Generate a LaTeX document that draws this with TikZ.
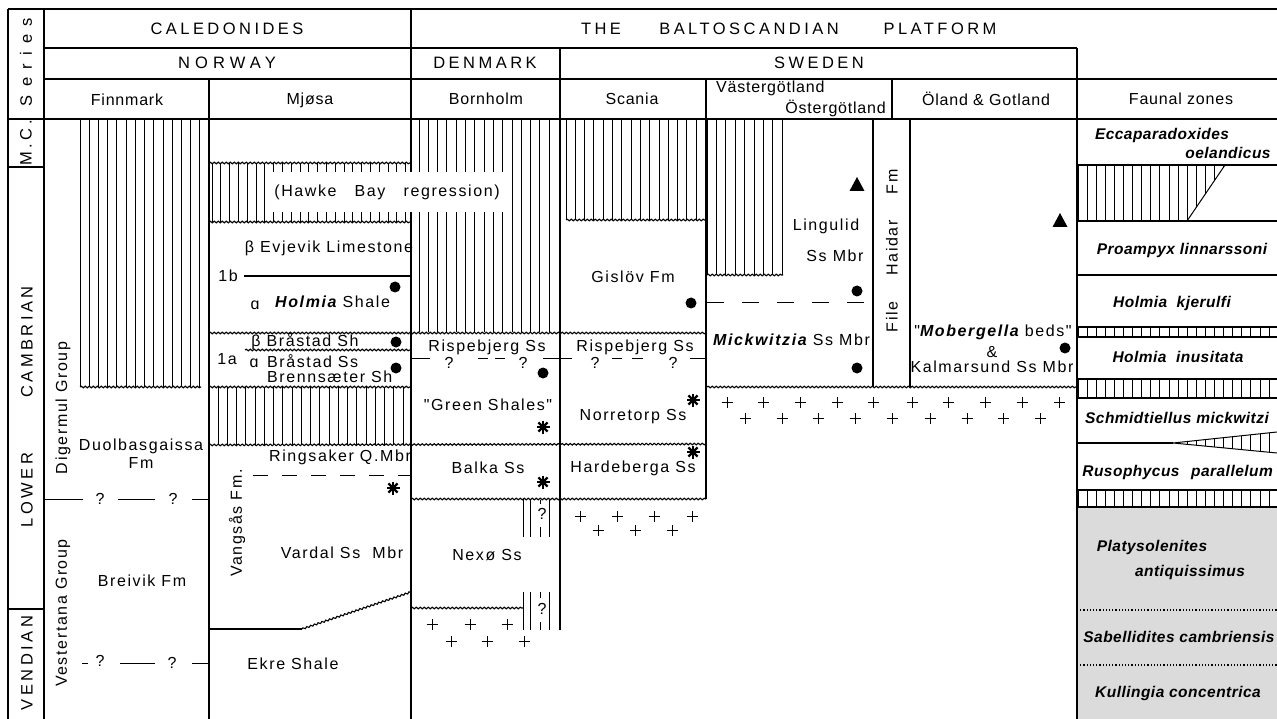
\documentclass[tikz,border=0pt]{standalone}
\usepackage{fontspec}
\setmainfont{Liberation Sans}
\newfontfamily\capsfont{Liberation Sans}[LetterSpace=21]
\newfontfamily\wcapsfont{Liberation Sans}[LetterSpace=31]
\newfontfamily\serfont{Liberation Sans}[LetterSpace=50]
\newfontfamily\subfont{Liberation Sans}[LetterSpace=5]
\newfontfamily\txtfont{Liberation Sans}[LetterSpace=10]
\newfontfamily\fzfont{Liberation Sans}[LetterSpace=3]
\usetikzlibrary{decorations.pathmorphing}
\newcommand\hatchv[5]{\foreach \xx in {#1,#2,...,#3}{\draw[hl] (\xx,#4) -- (\xx,#5);}}
\tikzset{
 astk/.pic={\foreach \a in {0,45,90,135}{\draw[line width=2.2pt] (\a:6.5pt) -- (\a+180:6.5pt);}\fill (0,0) circle[radius=2.6pt];},
 pls/.pic={\draw[line width=1pt] (-5.5pt,0) -- (5.5pt,0) (0,-5.5pt) -- (0,5.5pt);},
 tri/.pic={\fill (-7.5pt,-7pt) -- (7.5pt,-7pt) -- (0,7pt) -- cycle;},
}
\begin{document}
\begin{tikzpicture}[x=1pt,y=-1pt,
 ln/.style={line width=1.3pt},
 hl/.style={line width=1pt},
 wv/.style={line width=1.1pt,decorate,decoration={snake,amplitude=0.8pt,segment length=4pt}},
 hd/.style={font=\capsfont\fontsize{16.5}{18}\selectfont,inner sep=0pt},
 hw/.style={font=\wcapsfont\fontsize{16.5}{18}\selectfont,inner sep=0pt},
 sh/.style={font=\subfont\fontsize{16}{18}\selectfont,inner sep=0pt},
 tx/.style={font=\txtfont\fontsize{16}{18}\selectfont,inner sep=0pt},
 fz/.style={font=\fzfont\bfseries\itshape\fontsize{15.5}{18}\selectfont,inner sep=0pt},
 dt/.style={radius=5.5pt},
]
\useasboundingbox (0,0) rectangle (1277,719);
\fill[white] (0,0) rectangle (1277,719);
% stippled area
\fill[black!14] (1077,507) rectangle (1277,719);

% ---------- hatching ----------
\hatchv{80}{89.23}{200.5}{119}{387}        % Finnmark
\hatchv{212}{220.8}{406}{163}{222}         % Mjosa top
\hatchv{218}{227.25}{404}{387}{445}        % Mjosa lower
\hatchv{419}{428.3}{550}{119}{332}         % Bornholm
\hatchv{566}{575.3}{706}{119}{220}         % Scania
\hatchv{707}{716.4}{783}{119}{275}         % Vastergotland
% Bornholm small hatches
\foreach \xx in {523,530,549}{\draw[hl] (\xx,499) -- (\xx,537); \draw[hl] (\xx,592) -- (\xx,630);}
\draw[hl] (540,500) -- (540,504) (540,527) -- (540,537) (540,592) -- (540,598) (540,622) -- (540,630);
\node[tx] (q5) at (542,514) {?};
\node[tx] (q6) at (542,609) {?};
% faunal hatches
\begin{scope}
\clip (1077,165) -- (1225,165) -- (1187,221) -- (1077,221) -- cycle;
\hatchv{1078}{1087.1}{1230}{165}{221}
\end{scope}
\draw[hl] (1225,165) -- (1187,221);
\hatchv{1078}{1087.1}{1277}{327}{337}
\hatchv{1078}{1087.1}{1277}{379}{398}
\hatchv{1078}{1087.1}{1277}{490}{507}
\begin{scope}
\clip (1173,443) -- (1277,432) -- (1277,453) -- cycle;
\hatchv{1078}{1087.1}{1277}{430}{455}
\end{scope}
\draw[hl] (1277,432) -- (1173,443) -- (1277,453);

% white box Hawke Bay
\fill[white] (267,172) rectangle (508,212);

% ---------- frame lines ----------
\draw[ln] (8,9) -- (1277,9);
\draw[ln] (44,48) -- (1077,48);
\draw[ln] (44,79) -- (1277,79);
\draw[ln] (8,119) -- (1277,119);
\draw[ln] (8,9) -- (8,719);
\draw[ln] (44,9) -- (44,719);
\draw[ln] (8,167) -- (44,167);
\draw[ln] (8,609) -- (44,609);
\draw[ln] (209,79) -- (209,719);
\draw[ln] (411,9) -- (411,172) (411,212) -- (411,719);
\draw[ln] (560,48) -- (560,630);
\draw[ln] (706,79) -- (706,499);
\draw[ln] (892,79) -- (892,119);
\draw[ln] (873,119) -- (873,387);
\draw[ln] (910,119) -- (910,387);
\draw[ln] (1077,48) -- (1077,719);
% faunal lines
\draw[ln] (1077,165) -- (1277,165);
\draw[ln] (1077,221) -- (1277,221);
\draw[ln] (1077,275) -- (1277,275);
\draw[ln] (1077,327) -- (1277,327) (1077,337) -- (1277,337);
\draw[ln] (1077,379) -- (1277,379) (1077,398) -- (1277,398);
\draw[ln] (1077,443) -- (1173,443);
\draw[ln] (1077,490) -- (1277,490) (1077,507) -- (1277,507);
\draw[line width=1.2pt,dotted] (1077,610) -- (1277,610) (1077,665) -- (1277,665);

% ---------- unconformities ----------
\draw[wv] (209,163) -- (411,163);
\draw[wv] (209,222) -- (411,222);
\draw[wv] (80,387) -- (201,387);
\draw[wv] (209,333) -- (706,333);
\draw[wv] (566,220) -- (706,220);
\draw[wv] (245,350) -- (411,350);
\draw[wv] (209,387) -- (411,387);
\draw[wv] (707,275) -- (783,275);
\draw[wv] (707,387) -- (1077,387);
\draw[wv] (209,445) -- (706,444);
\draw[wv] (411,499) -- (706,499);
\draw[wv] (411,608) -- (523,608);
\draw[wv] (302,629) -- (411,592);
\draw[ln] (209,629) -- (302,629);
\draw[ln] (244,276) -- (411,276);
\draw[hl,dash pattern=on 15pt off 14pt] (253,475) -- (411,475);
\draw[hl,dash pattern=on 17pt off 18pt] (707,303) -- (873,303);

% ---------- headers ----------
\node[hd,font=\serfont\fontsize{16.5}{18}\selectfont,rotate=90] (ser) at (26,62) {Series};
\node[hd] (cal) at (227,29) {CALEDONIDES};
\node[hd] (the) at (601,29) {THE};
\node[hd] (bal) at (749,29) {BALTOSCANDIAN};
\node[hd] (pla) at (940,29) {PLATFORM};
\node[hw] (nor) at (227,63) {NORWAY};
\node[hd] (den) at (485,63) {DENMARK};
\node[hd] (swe) at (819,63) {SWEDEN};
\node[sh] (fin) at (127,100) {Finnmark};
\node[sh] (mjo) at (310,100) {Mjøsa};
\node[sh] (bor) at (486,99) {Bornholm};
\node[sh] (sca) at (632,99) {Scania};
\node[sh,anchor=west] (vas) at (716,88) {Västergötland};
\node[sh,anchor=east] (ost) at (886,108) {Östergötland};
\node[sh] (ola) at (986,99) {Öland \& Gotland};
\node[sh] (fau) at (1181,99) {Faunal zones};

% ---------- series column ----------
\node[hd,rotate=90] (mc) at (26,143) {M.C.};
\node[hd,rotate=90] (cam) at (27,342) {CAMBRIAN};
\node[hd,rotate=90] (low) at (27,490) {LOWER};
\node[hd,rotate=90] (ven) at (27,663) {VENDIAN};

% ---------- Finnmark ----------
\node[tx,rotate=90] (dig) at (63,408) {Digermul Group};
\node[tx,rotate=90] (ves) at (63,613) {Vestertana Group};
\node[tx] (duo) at (141,446) {Duolbasgaissa};
\node[tx] (duofm) at (141,463) {Fm};
\draw[hl] (44,499) -- (83,499) (118,499) -- (155,499) (192,499) -- (209,499);
\node[tx] (q1) at (100,499) {?};
\node[tx] (q2) at (173,499) {?};
\node[tx] (bre) at (142,581) {Breivik Fm};
\draw[hl] (82,663) -- (88,663) (120,663) -- (155,663) (192,663) -- (209,663);
\node[tx] (q3) at (100,661) {?};
\node[tx] (q4) at (172,663) {?};

% ---------- Mjosa ----------
\node[tx] (haw) at (387,192) {(Hawke\ \ \ Bay\ \ \ regression)};
\node[tx] (evj) at (329,248) {β Evjevik Limestone};
\node[tx] (o1b) at (228,276) {1b};
\fill (395,287) circle[dt];
\node[tx] (al1) at (255,305) {ɑ};
\node[tx,anchor=west] (hol) at (275,302) {{\bfseries\itshape Holmia} Shale};
\node[tx] (brsh) at (305,342) {β Bråstad Sh};
\fill (396,342) circle[dt];
\node[tx] (o1a) at (227,359) {1a};
\node[tx] (al2) at (254,363) {ɑ};
\node[tx,anchor=west] (brss) at (267,361) {Bråstad Ss};
\fill (396,368) circle[dt];
\node[tx,anchor=west] (bren) at (267,377) {Brennsæter Sh};
\node[tx] (rin) at (340,457) {Ringsaker Q.Mbr};
\pic at (393,488) {astk};
\node[tx,rotate=90] (van) at (237,523) {Vangsås Fm.};
\node[tx] (var) at (342,553) {Vardal Ss\ \ Mbr};
\node[tx] (ekr) at (293,664) {Ekre Shale};

% ---------- Bornholm ----------
\node[tx] (ris1) at (487,347) {Rispebjerg Ss};
\draw[hl] (411,358) -- (430,358) (478,358) -- (488,358) (495,358) -- (505,358) (543,358) -- (560,358);
\node[tx] (q7) at (449,363) {?};
\node[tx] (q8) at (523,363) {?};
\fill (543,373) circle[dt];
\node[tx] (gre) at (488,405) {"Green Shales"};
\pic at (543,427) {astk};
\node[tx] (bal2) at (488,468) {Balka Ss};
\pic at (543,482) {astk};
\node[tx] (nex) at (487,555) {Nexø Ss};
\foreach \xx in {432,470,507}{\pic at (\xx,624) {pls};}
\foreach \xx in {451,487,524}{\pic at (\xx,641) {pls};}

% ---------- Scania ----------
\node[tx] (gis) at (633,277) {Gislöv Fm};
\fill (691,303) circle[dt];
\node[tx] (ris2) at (635,347) {Rispebjerg Ss};
\draw[hl] (560,358) -- (572,358) (612,358) -- (622,358) (632,358) -- (643,358) (690,358) -- (706,358);
\node[tx] (q9) at (595,363) {?};
\node[tx] (q10) at (673,363) {?};
\pic at (693,400) {astk};
\node[tx] (nor2) at (633,417) {Norretorp Ss};
\pic at (693,452) {astk};
\node[tx] (har) at (633,468) {Hardeberga Ss};
\foreach \xx in {580,617,654,692}{\pic at (\xx,516) {pls};}
\foreach \xx in {598,635,672}{\pic at (\xx,530) {pls};}

% ---------- Vastergotland / Ostergotland ----------
\pic at (857,184) {tri};
\node[tx] (lin) at (826,226) {Lingulid};
\node[tx] (lss) at (835,256) {Ss Mbr};
\fill (857,291) circle[dt];
\node[tx,anchor=west] (mic) at (713,340) {{\bfseries\itshape Mickwitzia} Ss Mbr};
\fill (857,368) circle[dt];
\node[tx,rotate=90] (fil) at (892,317) {File};
\node[tx,rotate=90] (hai) at (892,248) {Haidar};
\node[tx,rotate=90] (hfm) at (892,182) {Fm};

% ---------- Oland & Gotland ----------
\pic at (1060,220) {tri};
\node[tx] (mob) at (993,332) {"{\bfseries\itshape Mobergella} beds"};
\fill (1065,348) circle[dt];
\node[tx] (amp) at (992,352) {\&};
\node[tx] (kal) at (992,367) {Kalmarsund Ss Mbr};
\foreach \xx in {727,763,800,837,873,912,948,985,1022,1059}{\pic at (\xx,402) {pls};}
\foreach \xx in {745,782,818,855,892,930,967,1003,1040}{\pic at (\xx,418) {pls};}

% ---------- Faunal zones ----------
\node[fz] (ecc) at (1162,135) {Eccaparadoxides};
\node[fz] (oel) at (1228,153) {oelandicus};
\node[fz] (pro) at (1182,250) {Proampyx linnarssoni};
\node[fz] (hkj) at (1172,303) {Holmia\ \ kjerulfi};
\node[fz] (hin) at (1178,357) {Holmia\ \ inusitata};
\node[fz] (sch) at (1177,418) {Schmidtiellus mickwitzi};
\node[fz] (rus) at (1131,472) {Rusophycus};
\node[fz] (par) at (1232,472) {parallelum};
\node[fz] (pla2) at (1152,547) {Platysolenites};
\node[fz] (ant) at (1190,572) {antiquissimus};
\node[fz] (sab) at (1179,637) {Sabellidites cambriensis};
\node[fz] (kul) at (1178,693) {Kullingia concentrica};
\end{tikzpicture}
\end{document}
